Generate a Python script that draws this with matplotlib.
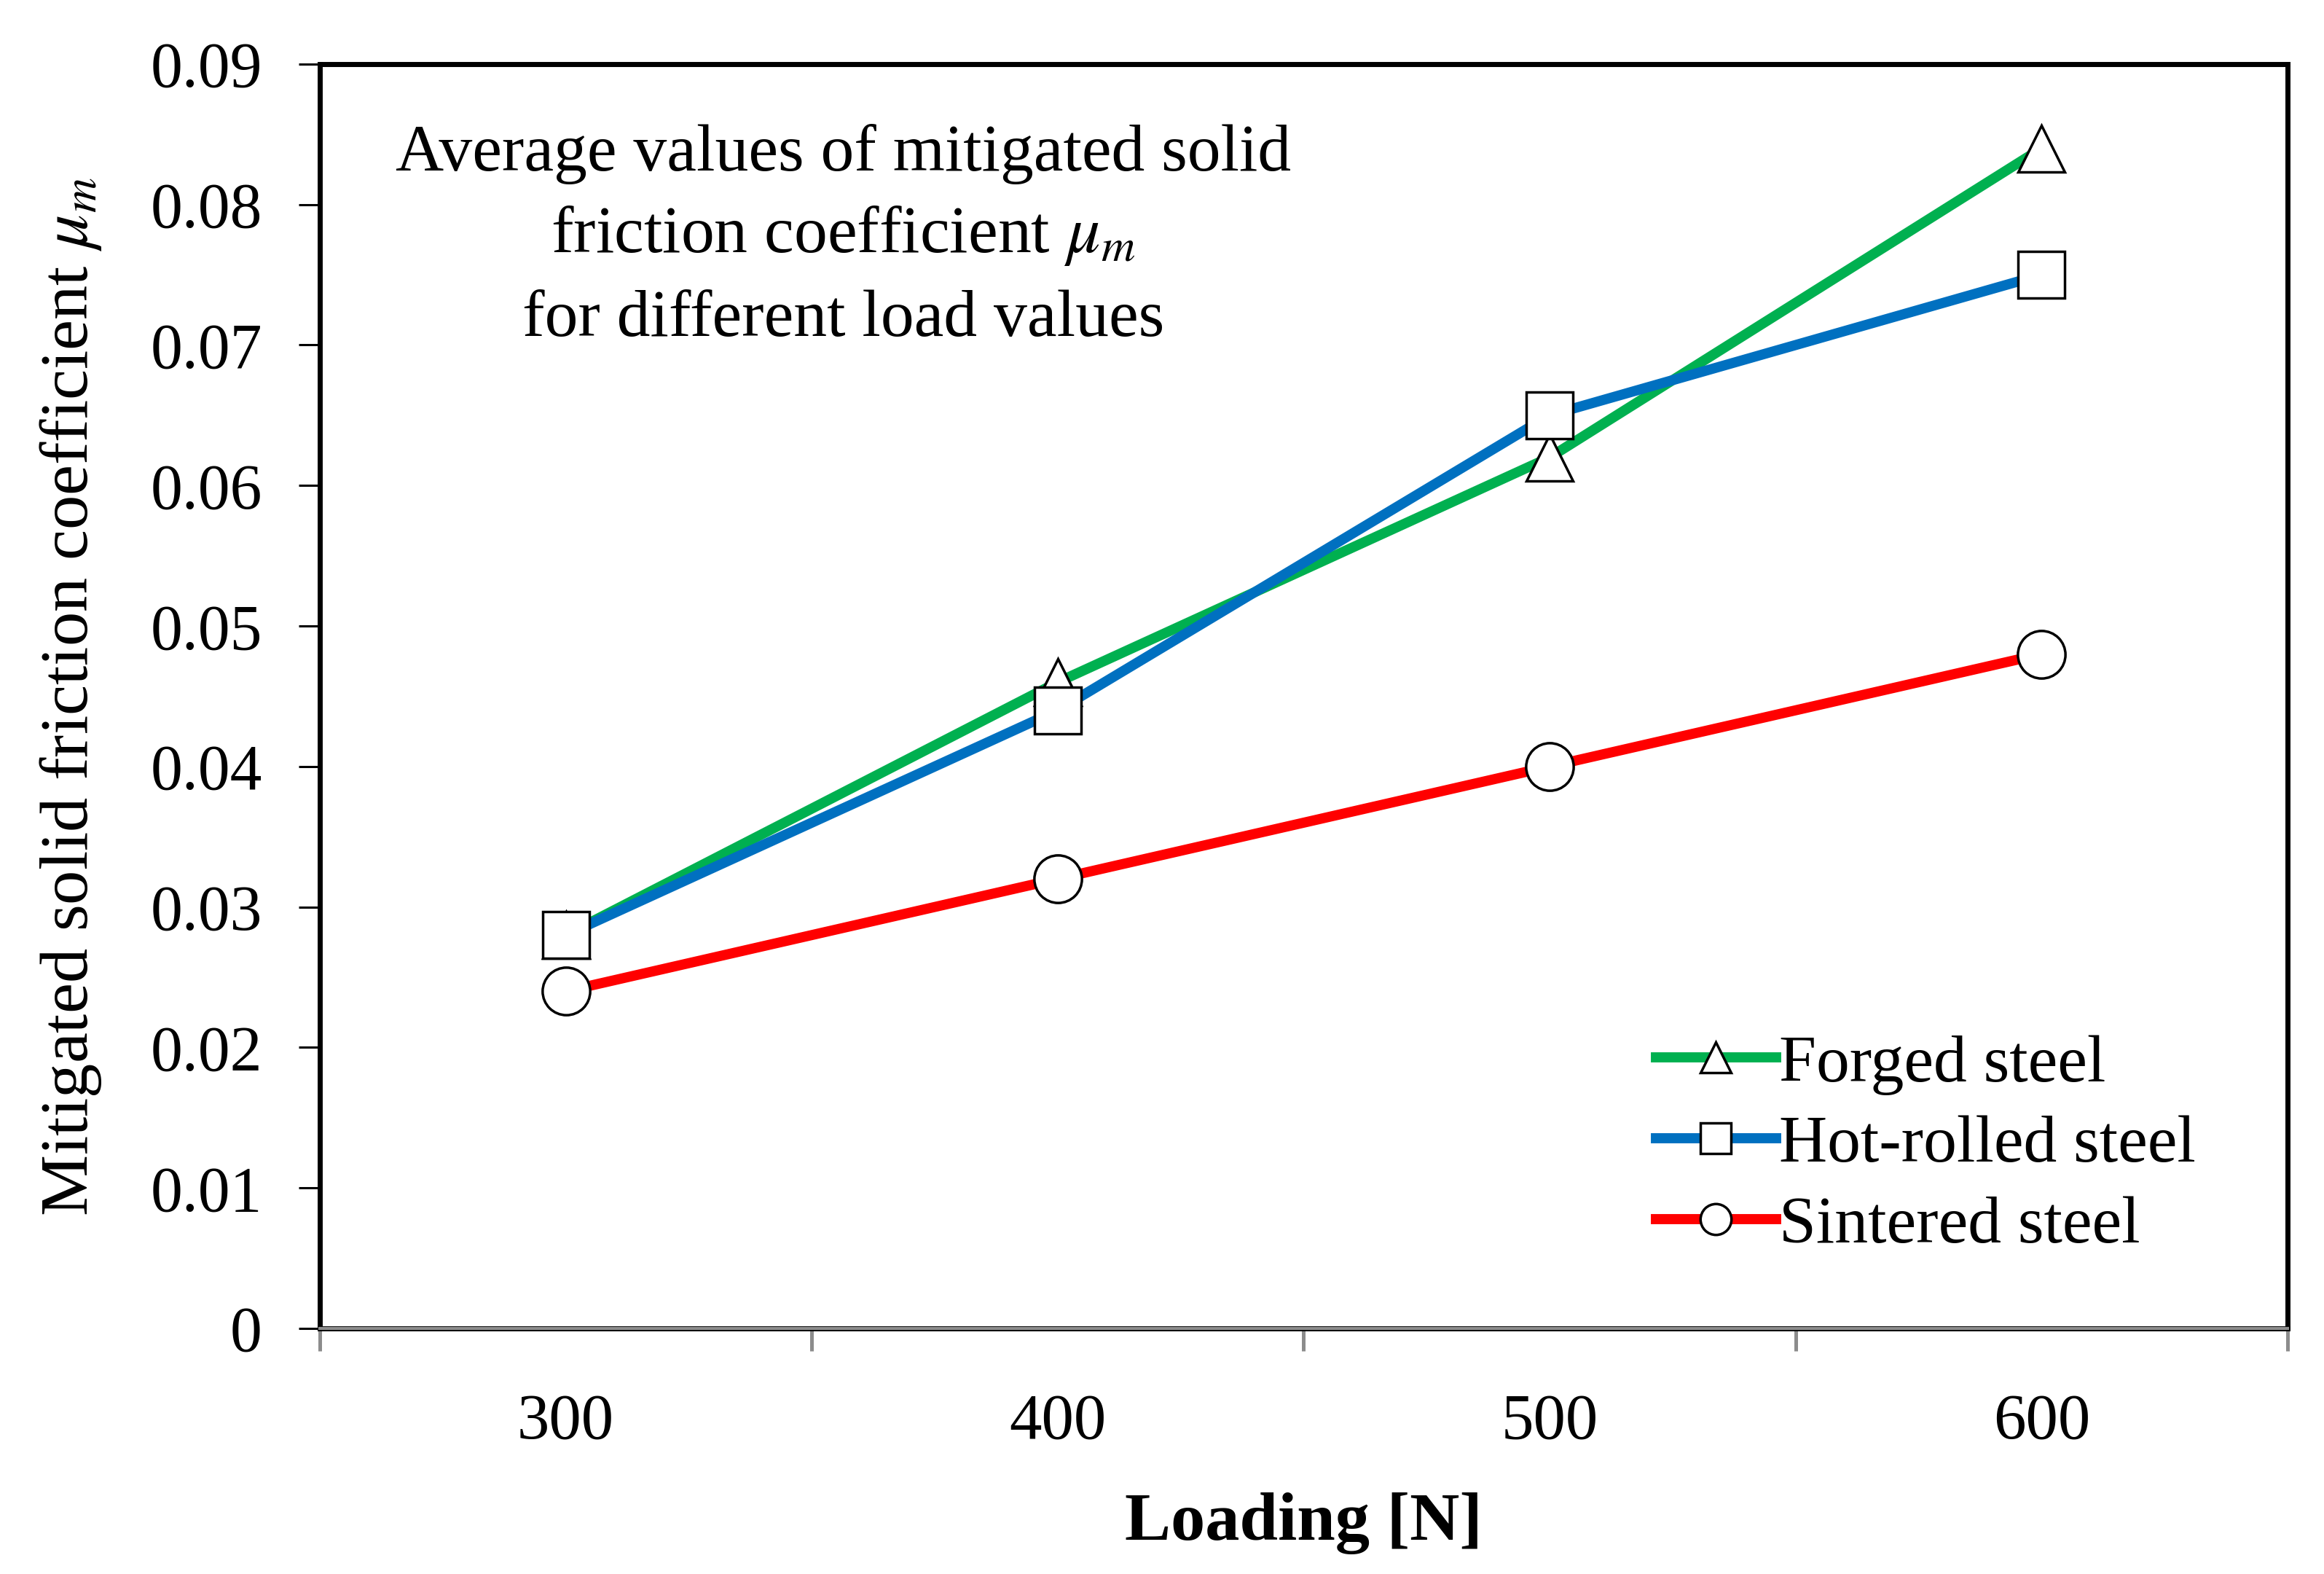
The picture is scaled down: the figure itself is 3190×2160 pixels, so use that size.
import matplotlib
matplotlib.use('Agg')
import matplotlib.pyplot as plt

plt.rcParams['font.family'] = ['Liberation Serif', 'DejaVu Serif']
plt.rcParams['mathtext.fontset'] = 'stix'

loads = [300, 400, 500, 600]
forged = [0.028, 0.046, 0.062, 0.084]
hot_rolled = [0.028, 0.044, 0.065, 0.075]
sintered = [0.024, 0.032, 0.040, 0.048]
y_ticks = [0, 0.01, 0.02, 0.03, 0.04, 0.05, 0.06, 0.07, 0.08, 0.09]
y_tick_labels = ['0', '0.01', '0.02', '0.03', '0.04', '0.05', '0.06', '0.07', '0.08', '0.09']

fig = plt.figure(figsize=(31.9, 21.6), dpi=100)
ax = fig.add_axes([0.1376, 0.156, 0.8467, 0.8033])

# Excel-like category axis: categories at the centre of each slot
pos = list(range(len(loads)))
ax.plot(pos, forged, color='#00B050', lw=10, marker='^', ms=46,
        mfc='white', mec='black', mew=2.5, label='Forged steel', zorder=3)
ax.plot(pos, hot_rolled, color='#0070C0', lw=10, marker='s', ms=46,
        mfc='white', mec='black', mew=2.5, label='Hot-rolled steel', zorder=3)
ax.plot(pos, sintered, color='#FF0000', lw=10, marker='o', ms=47,
        mfc='white', mec='black', mew=2.5, label='Sintered steel', zorder=3)

ax.set_xlim(-0.5, len(loads) - 0.5)
ax.set_ylim(0, 0.09)
ax.set_xticks([p - 0.5 for p in pos] + [len(loads) - 0.5])
ax.set_xticklabels([])
ax.set_xticks(pos, minor=True)
ax.set_xticklabels([str(v) for v in loads], minor=True)
ax.tick_params(axis='x', which='major', direction='out', length=22, width=3.6,
               color='#8c8c8c')
ax.tick_params(axis='x', which='minor', length=0, pad=64, labelsize=64)
ax.set_yticks(y_ticks)
ax.set_yticklabels(y_tick_labels)
ax.tick_params(axis='y', direction='out', length=21, width=2.2, labelsize=63, pad=36)

for s in ['left', 'right', 'top', 'bottom']:
    ax.spines[s].set_linewidth(5)
# grey category axis line over the black frame
ax.axhline(0, color='#8c8c8c', lw=3, zorder=5, clip_on=False)

ax.set_xlabel('Loading [N]', fontsize=68, fontweight='bold', labelpad=40)
ax.set_ylabel(r'Mitigated solid friction coefficient $\mu_m$', fontsize=68, labelpad=46)

ax.text(0.266, 0.929, 'Average values of mitigated solid', transform=ax.transAxes,
        ha='center', va='center', fontsize=66)
ax.text(0.266, 0.864, r'friction coefficient $\mu_m$', transform=ax.transAxes,
        ha='center', va='center', fontsize=66)
ax.text(0.266, 0.798, 'for different load values', transform=ax.transAxes,
        ha='center', va='center', fontsize=66)

ax.legend(loc='lower right', bbox_to_anchor=(0.967, 0.036), frameon=False,
          fontsize=66, handlelength=1.8, handletextpad=0.05, labelspacing=0.3,
          markerscale=0.65, borderaxespad=0)

fig.savefig('out.png', dpi=100)
